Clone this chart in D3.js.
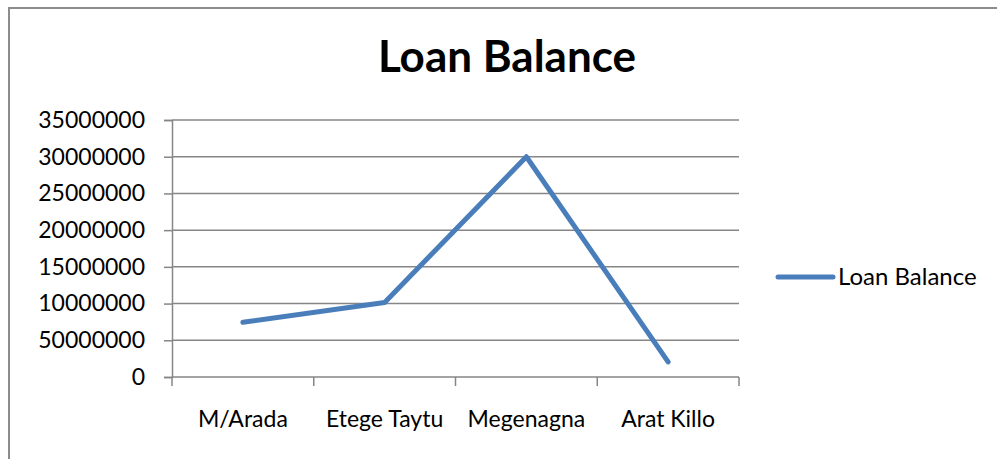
<!DOCTYPE html>
<html lang="en">
<head>
<meta charset="utf-8">
<title>Loan Balance</title>
<script src="https://d3js.org/d3.v7.min.js"></script>
<style>
  body { margin: 0; background: #fff; }
  text { font-family: Lato, "Open Sans", sans-serif; fill: #000; }
</style>
</head>
<body>
<div id="chart"></div>
<script>
var branches = ["M/Arada", "Etege Taytu", "Megenagna", "Arat Killo"]
var loanBalance = [7450000, 10150000, 30000000, 2050000]
var yTicks = [0, 5000000, 10000000, 15000000, 20000000, 25000000, 30000000, 35000000]
var yTickLabels = ["0", "50000000", "10000000", "15000000", "20000000", "25000000", "30000000", "35000000"]
var seriesName = "Loan Balance"

var w = 997, h = 459
var plotLeft = 172, plotRight = 739, plotTop = 120, plotBottom = 377

var svg = d3.select("#chart").append("svg")
  .attr("width", w).attr("height", h)

// outer chart border (only top/left visible in the crop)
svg.append("rect")
  .attr("x", 9).attr("y", 8)
  .attr("width", w + 20).attr("height", h + 20)
  .attr("fill", "none").attr("stroke", "#8c8c8c").attr("stroke-width", 2)

var x = d3.scaleBand().domain(branches).range([plotLeft, plotRight])
var y = d3.scaleLinear().domain([0, 35000000]).range([plotBottom, plotTop])

// gridlines
svg.append("g").selectAll("line")
  .data(yTicks.slice(1))
  .enter().append("line")
  .attr("x1", plotLeft).attr("x2", plotRight)
  .attr("y1", function(d) { return y(d) }).attr("y2", function(d) { return y(d) })
  .attr("stroke", "#868686").attr("stroke-width", 1.5)

var yAxis = d3.axisLeft(y).tickValues(yTicks).tickSize(8).tickPadding(19)
  .tickFormat(function(d, i) { return yTickLabels[i] })
var gy = svg.append("g").attr("transform", "translate(" + plotLeft + ",0)").call(yAxis)
gy.select(".domain").attr("stroke", "#868686").attr("stroke-width", 1.5)
gy.selectAll(".tick line").attr("stroke", "#868686").attr("stroke-width", 1.5)
gy.selectAll("text").style("font-size", "23px").attr("fill", "#000")

// x axis: ticks at band edges
var gx = svg.append("g").attr("transform", "translate(0," + plotBottom + ")")
gx.append("line").attr("x1", plotLeft).attr("x2", plotRight)
  .attr("stroke", "#868686").attr("stroke-width", 1.5)
var edges = branches.map(function(b) { return x(b) }).concat([x(branches[branches.length - 1]) + x.bandwidth()])
gx.selectAll(".edge").data(edges).enter().append("line")
  .attr("class", "edge")
  .attr("x1", function(d) { return d }).attr("x2", function(d) { return d })
  .attr("y1", 0).attr("y2", 9)
  .attr("stroke", "#868686").attr("stroke-width", 1.5)
gx.selectAll(".lbl").data(branches).enter().append("text")
  .attr("class", "lbl")
  .attr("x", function(d) { return x(d) + x.bandwidth() / 2 })
  .attr("y", 50)
  .attr("text-anchor", "middle")
  .style("font-size", "23px")
  .text(function(d) { return d })

// the series
var line = d3.line()
  .x(function(d, i) { return x(branches[i]) + x.bandwidth() / 2 })
  .y(function(d) { return y(d) })
svg.append("path").datum(loanBalance)
  .attr("d", line)
  .attr("fill", "none").attr("stroke", "#4a7ebb")
  .attr("stroke-width", 5).attr("stroke-linejoin", "round").attr("stroke-linecap", "round")

// title
svg.append("text")
  .attr("x", 507).attr("y", 72)
  .attr("text-anchor", "middle")
  .style("font-size", "44px").style("font-weight", "bold")
  .text(seriesName)

// legend
var lg = svg.append("g").attr("transform", "translate(778,277)")
lg.append("line").attr("x1", 0).attr("x2", 55).attr("y1", 0).attr("y2", 0)
  .attr("stroke", "#4a7ebb").attr("stroke-width", 5).attr("stroke-linecap", "round")
lg.append("text").attr("x", 60).attr("y", 0).attr("dy", "0.35em")
  .style("font-size", "24px").text(seriesName)
</script>
</body>
</html>
